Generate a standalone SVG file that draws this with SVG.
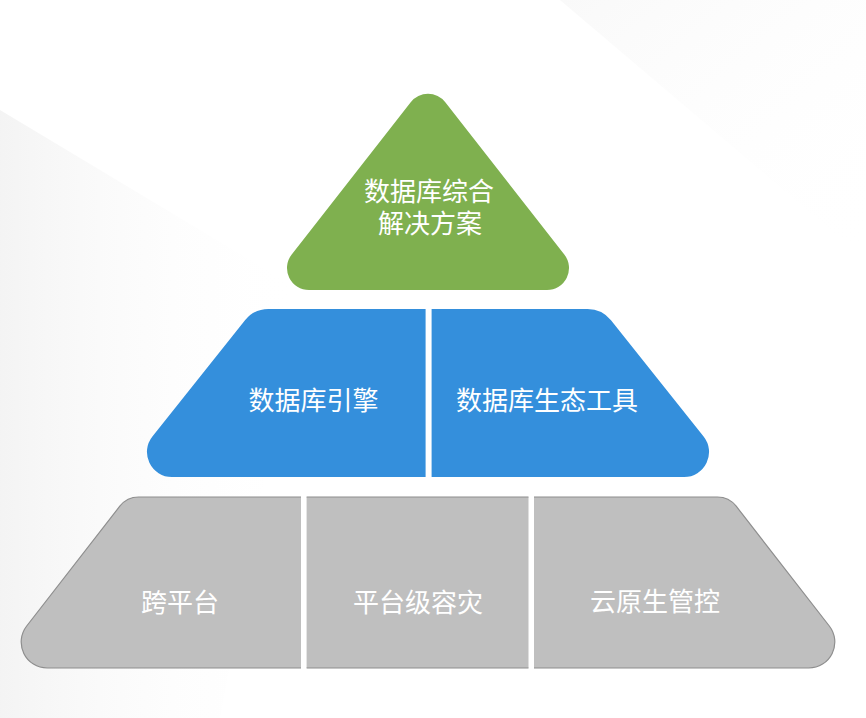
<svg xmlns="http://www.w3.org/2000/svg" xmlns:xlink="http://www.w3.org/1999/xlink" width="866" height="718" viewBox="0 0 866 718">
  <style>
    .green { fill: #7fb04f; }
    .blue { fill: #348fdc; }
    .gray { fill: #bfbfbf; stroke: #8e8e8e; stroke-width: 1.2; }
    .label { font-family: "Noto Sans CJK SC", "Microsoft YaHei", "Liberation Sans", sans-serif; font-size: 26px; fill: #ffffff; text-anchor: middle; }
  </style>
  <defs>
    <linearGradient id="bgLeft" x1="0" y1="0" x2="1" y2="0">
      <stop offset="0" stop-color="#f1f1f1"/>
      <stop offset="1" stop-color="#ffffff" stop-opacity="0"/>
    </linearGradient>
    <linearGradient id="bgRight" x1="0" y1="0" x2="1" y2="1">
      <stop offset="0" stop-color="#f5f5f5"/>
      <stop offset="1" stop-color="#ffffff" stop-opacity="0"/>
    </linearGradient>
    <path id="blueShape" d="M 268.4,309 L 587.6,309 A 30 30 0 0 1 611,320.3 L 703.6,436.4 A 25 25 0 0 1 684.1,477 L 171.9,477 A 25 25 0 0 1 152.4,436.4 L 245,320.3 A 30 30 0 0 1 268.4,309 Z"/>
    <path id="grayShape" d="M 138.7,497 L 717.3,497 A 24 24 0 0 1 736.2,506.2 L 829.3,626 A 26 26 0 0 1 808.8,668 L 47.2,668 A 26 26 0 0 1 26.7,626 L 119.8,506.2 A 24 24 0 0 1 138.7,497 Z"/>
    <clipPath id="slabB1"><rect x="0" y="280" width="425.6" height="220"/></clipPath>
    <clipPath id="slabB2"><rect x="431.6" y="280" width="434.4" height="220"/></clipPath>
    <clipPath id="slabG1"><rect x="0" y="480" width="301" height="220"/></clipPath>
    <clipPath id="slabG2"><rect x="306.6" y="480" width="221.9" height="220"/></clipPath>
    <clipPath id="slabG3"><rect x="534" y="480" width="332" height="220"/></clipPath>
  </defs>

  <!-- background -->
  <rect x="0" y="0" width="866" height="718" fill="#ffffff"/>
  <polygon points="0,110 300,290 220,718 0,718" fill="url(#bgLeft)" opacity="0.8"/>
  <polygon points="560,0 866,0 866,260" fill="url(#bgRight)" opacity="0.6"/>

  <g id="connectors"/>

  <g id="node-solution">
    <path class="green" d="M 410.7,102.2 A 22 22 0 0 1 445.3,102.2 L 564.3,254.4 A 22 22 0 0 1 546.9,290 L 309.1,290 A 22 22 0 0 1 291.7,254.4 Z"/>
    <text class="label" x="429" y="201">数据库综合</text>
    <text class="label" x="430" y="233">解决方案</text>
  </g>

  <g id="node-engine">
    <use xlink:href="#blueShape" href="#blueShape" class="blue" clip-path="url(#slabB1)"/>
    <text class="label" x="313.5" y="410">数据库引擎</text>
  </g>

  <g id="node-ecotools">
    <use xlink:href="#blueShape" href="#blueShape" class="blue" clip-path="url(#slabB2)"/>
    <text class="label" x="547" y="410">数据库生态工具</text>
  </g>

  <g id="node-crossplatform">
    <use xlink:href="#grayShape" href="#grayShape" class="gray" clip-path="url(#slabG1)"/>
    <text class="label" x="180" y="612">跨平台</text>
  </g>

  <g id="node-disaster-recovery">
    <use xlink:href="#grayShape" href="#grayShape" class="gray" clip-path="url(#slabG2)"/>
    <text class="label" x="418" y="612">平台级容灾</text>
  </g>

  <g id="node-cloud-native">
    <use xlink:href="#grayShape" href="#grayShape" class="gray" clip-path="url(#slabG3)"/>
    <text class="label" x="655" y="611">云原生管控</text>
  </g>
</svg>
